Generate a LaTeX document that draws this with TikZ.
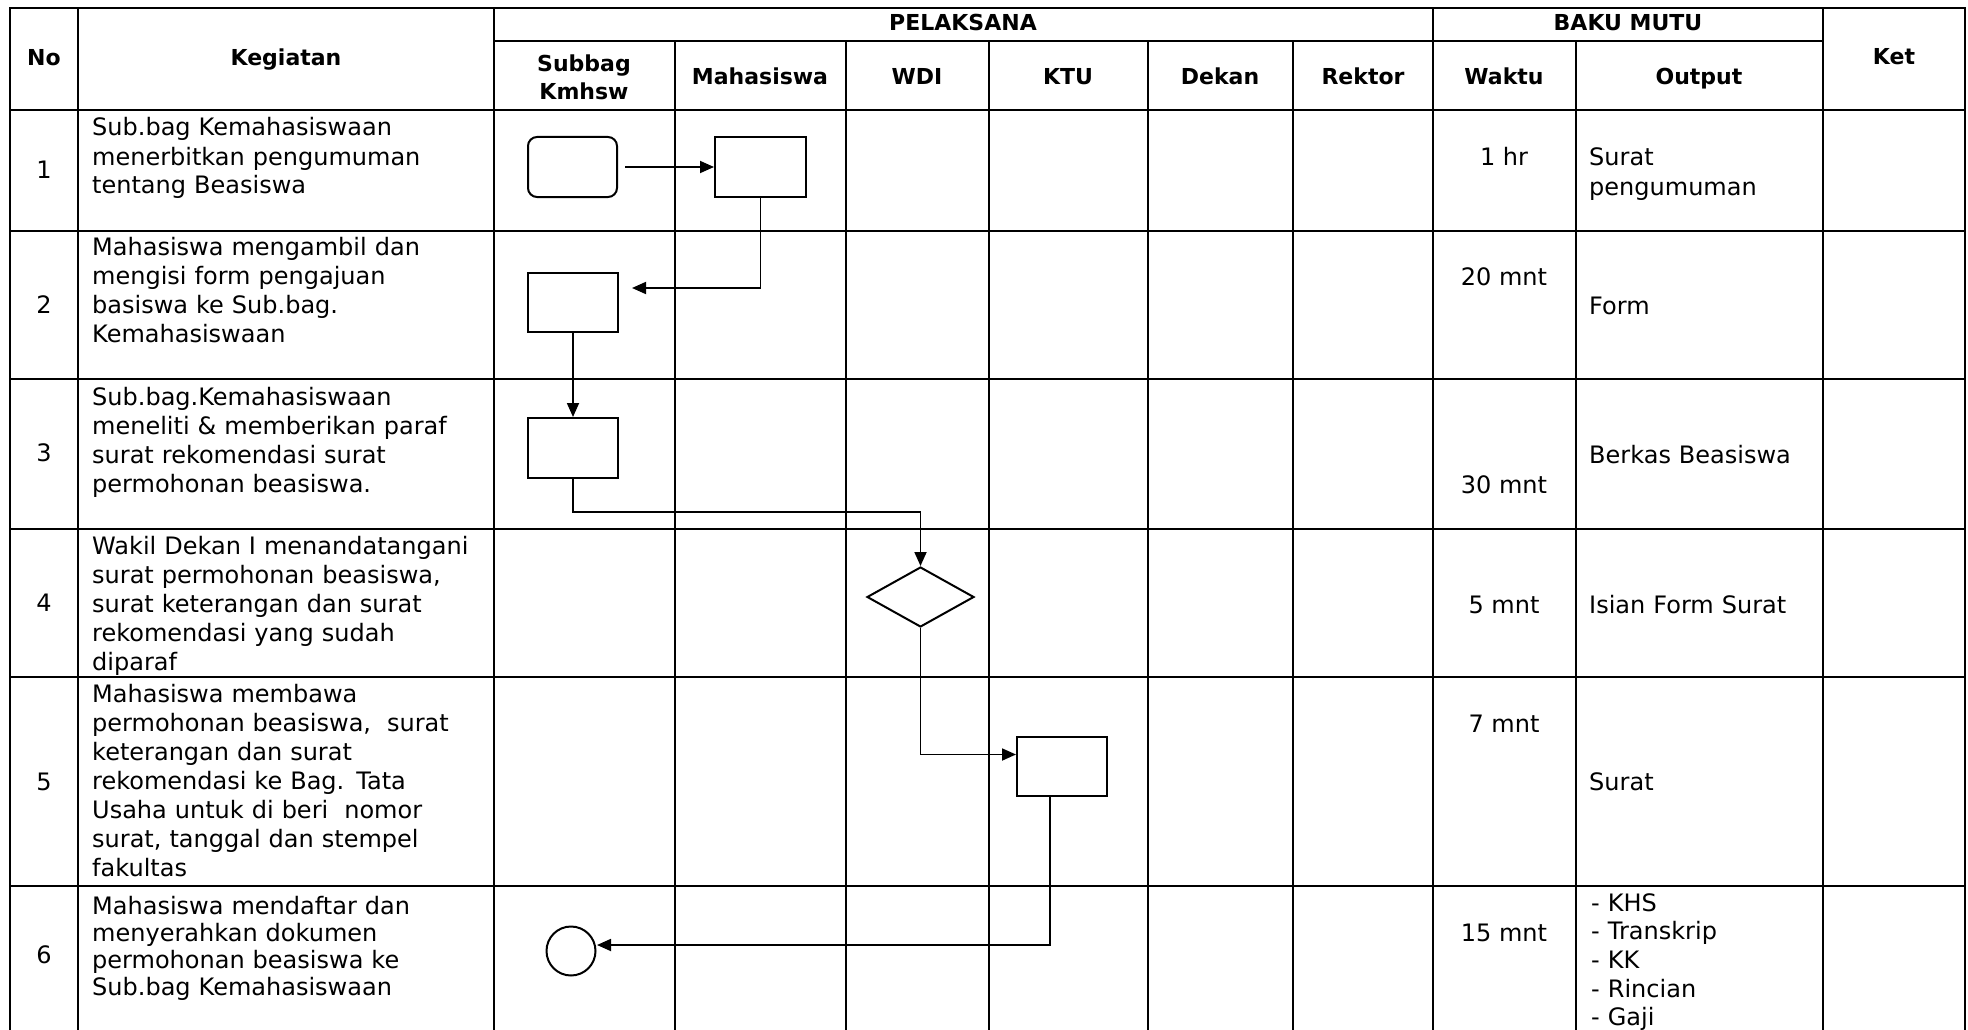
\documentclass[tikz,border=0pt]{standalone}
\usepackage{fontspec}
\setmainfont{DejaVu Sans}
\usetikzlibrary{shapes.geometric,arrows.meta,calc}
\begin{document}
\begin{tikzpicture}[x=1pt,y=-1pt,
  tline/.style={line width=2.5pt},
  tthin/.style={line width=1.4pt},
  hd/.style={font=\fontsize{22}{28}\selectfont\bfseries, inner sep=0pt, anchor=base},
  bd/.style={font=\fontsize{24}{29}\selectfont, inner sep=0pt, anchor=base},
  num/.style={font=\fontsize{24}{29}\selectfont, inner sep=0pt, anchor=center},
  cell/.style={font=\fontsize{24}{29}\selectfont, inner sep=0pt, anchor=base west, text width=400pt, align=left},
  pbox/.style={draw, line width=2pt, minimum width=90pt, minimum height=60pt, inner sep=0pt},
  arr/.style={line width=1.8pt, -{Triangle[length=14pt,width=12pt]}},
  conn/.style={line width=1.8pt}]
\fill[white] (0,0) rectangle (1968,1030);
\useasboundingbox (0,0) rectangle (1968,1030);

% ---------- table grid ----------
\draw[tline] (10,1030) -- (10,8) -- (1965,8) -- (1965,1030);
\draw[tline] (494,41) -- (1823,41);
\draw[tline] (10,110) -- (1965,110);
\foreach \yy in {231,379,529,677}{\draw[tline] (10,\yy) -- (1965,\yy);}
\draw[tthin] (10,886) -- (1965,886);
\foreach \xx in {78,494,1433,1823}{\draw[tline] (\xx,8) -- (\xx,1030);}
\foreach \xx in {675,846,1148,1293,1576}{\draw[tline] (\xx,41) -- (\xx,1030);}
\draw[tthin] (989,41) -- (989,1030);

% ---------- headers ----------
\node[hd] (hNo) at (44,66) {No};
\node[hd] (hKeg) at (286,66) {Kegiatan};
\node[hd] (hPel) at (963,31) {PELAKSANA};
\node[hd] (hBaku) at (1628,31) {BAKU MUTU};
\node[hd] (hKet) at (1894,65) {Ket};
\node[hd, text width=170pt, align=center] (hSub) at (584,72) {Subbag\\Kmhsw};
\node[hd] (hMhs) at (760,85) {Mahasiswa};
\node[hd] (hWdi) at (917,85) {WDI};
\node[hd] (hKtu) at (1068,85) {KTU};
\node[hd] (hDek) at (1220,85) {Dekan};
\node[hd] (hRek) at (1363,85) {Rektor};
\node[hd] (hWak) at (1504,85) {Waktu};
\node[hd] (hOut) at (1699,85) {Output};

% ---------- numbers ----------
\node[num] (k1) at (44,170) {1};
\node[num] (k2) at (44,305) {2};
\node[num] (k3) at (44,453) {3};
\node[num] (k4) at (44,603) {4};
\node[num] (k5) at (44,782) {5};
\node[num] (k6) at (44,955) {6};

% ---------- kegiatan ----------
\node[cell] (t1) at (92,136) {Sub.bag Kemahasiswaan\\menerbitkan pengumuman\\tentang Beasiswa};
\node[cell] (t2) at (92,255) {Mahasiswa mengambil dan\\mengisi form pengajuan\\basiswa ke Sub.bag.\\Kemahasiswaan};
\node[cell] (t3) at (92,405) {Sub.bag.Kemahasiswaan\\meneliti \& memberikan paraf\\surat rekomendasi surat\\permohonan beasiswa.};
\node[cell] (t4) at (92,554) {Wakil Dekan I menandatangani\\surat permohonan beasiswa,\\surat keterangan dan surat\\rekomendasi yang sudah\\diparaf};
\node[cell] (t5) at (92,702) {Mahasiswa membawa\\permohonan beasiswa,\ \ surat\\keterangan dan surat\\rekomendasi ke Bag. Tata\\Usaha untuk di beri\ \ nomor\\surat, tanggal dan stempel\\fakultas};
\node[cell, font=\fontsize{24}{27}\selectfont] (t6) at (92,914) {Mahasiswa mendaftar dan\\menyerahkan dokumen\\permohonan beasiswa ke\\Sub.bag Kemahasiswaan};

% ---------- waktu ----------
\node[bd] (w1) at (1504,166) {1 hr};
\node[bd] (w2) at (1504,285) {20 mnt};
\node[bd] (w3) at (1504,493) {30 mnt};
\node[bd] (w4) at (1504,613) {5 mnt};
\node[bd] (w5) at (1504,732) {7 mnt};
\node[bd] (w6) at (1504,941) {15 mnt};

% ---------- output ----------
\node[cell] (o1) at (1589,166) {Surat\\pengumuman};
\node[cell] (o2) at (1589,314) {Form};
\node[cell] (o3) at (1589,463) {Berkas Beasiswa};
\node[cell] (o4) at (1589,613) {Isian Form Surat};
\node[cell] (o5) at (1589,790) {Surat};
\node[cell, font=\fontsize{24}{28.7}\selectfont] (o6) at (1591,911) {- KHS\\- Transkrip\\- KK\\- Rincian\\- Gaji};

% ---------- flow shapes ----------
\node[pbox, rounded corners=9pt, minimum width=89pt] (n1) at (572.5,167) {};
\node[pbox, minimum width=91pt] (n2) at (760.5,167) {};
\node[pbox, minimum height=59pt] (n3) at (573,302.5) {};
\node[pbox] (n4) at (573,448) {};
\node[draw, diamond, line width=2pt, minimum width=107pt, minimum height=60pt, inner sep=0pt] (n5) at (920.5,597) {};
\node[pbox, minimum height=59pt] (n6) at (1062,766.5) {};
\node[draw, circle, line width=2pt, minimum size=49pt, inner sep=0pt] (n7) at (571,951) {};

\coordinate (c23) at (632,288);
\coordinate (c67) at (597,945);

% ---------- connectors ----------
\draw[arr, shorten <=7pt] (n1.east) -- (n2.west);
\draw[arr] (n2.south) |- (c23);
\draw[arr] (n3.south) -- (n4.north);
\draw[arr] (n4.south) -- ++(0,33) -| (n5.north);
\draw[arr] (n5.south) |- ([yshift=12pt]n6.west);
\draw[arr] ([xshift=-12pt]n6.south) |- (c67);
\end{tikzpicture}
\end{document}
